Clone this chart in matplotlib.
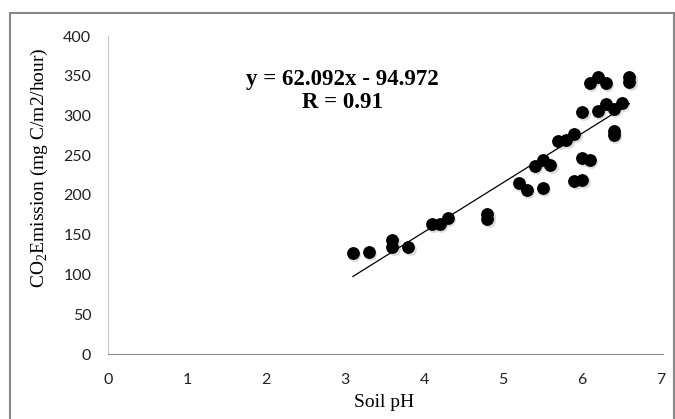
import matplotlib.pyplot as plt
import numpy as np
from matplotlib.patches import Rectangle

# Soil pH vs CO2 emission
soil_ph = [3.1, 3.3, 3.6, 3.6, 3.8, 4.1, 4.2, 4.3, 4.8, 4.8,
           5.2, 5.3, 5.4, 5.5, 5.5, 5.6, 5.7, 5.8, 5.9, 5.9,
           6.0, 6.0, 6.0, 6.1, 6.1, 6.2, 6.2, 6.3, 6.3, 6.4,
           6.4, 6.4, 6.5, 6.6, 6.6]
co2_emission = [127, 128, 144, 135, 134, 163, 163, 171, 170, 176,
                215, 206, 236, 244, 209, 238, 268, 269, 277, 218,
                304, 246, 219, 244, 341, 348, 306, 341, 314, 308,
                275, 280, 316, 348, 342]

slope = 62.092
intercept = -94.972

x_ticks = [0, 1, 2, 3, 4, 5, 6, 7]
y_ticks = [0, 50, 100, 150, 200, 250, 300, 350, 400]

plt.rcParams["mathtext.fontset"] = "custom"
plt.rcParams["mathtext.rm"] = "Liberation Serif"

fig = plt.figure(figsize=(6.75, 4.19), dpi=100)
ax = fig.add_axes([108 / 675, 1 - 354 / 419, (661 - 108) / 675, (354 - 36) / 419])

# soft shadow under the markers, like the spreadsheet style
ax.scatter(np.array(soil_ph) + 0.02, np.array(co2_emission) - 2.5, s=85,
           color="#999999", alpha=0.35, linewidths=0, zorder=2)
ax.scatter(soil_ph, co2_emission, s=85, color="black", linewidths=0, zorder=3)

fit_x = np.array([min(soil_ph), max(soil_ph)])
ax.plot(fit_x, slope * fit_x + intercept, color="black", linewidth=0.9, zorder=4)

ax.set_xlim(0, 7)
ax.set_ylim(0, 400)
ax.set_xticks(x_ticks)
ax.set_yticks(y_ticks)
ax.tick_params(length=0, labelsize=11.5, colors="#222222", pad=14)
ax.tick_params(axis="y", pad=12)
for label in ax.get_xticklabels() + ax.get_yticklabels():
    label.set_fontfamily("Lato")

for side in ["top", "right"]:
    ax.spines[side].set_visible(False)
ax.spines["left"].set_color("#c8c8c8")
ax.spines["bottom"].set_color("#8c8c8c")
ax.spines["bottom"].set_bounds(0, 7.03)

ax.set_xlabel("Soil pH", fontfamily="Liberation Serif", fontsize=14)
ax.set_ylabel("CO$_2$Emission (mg C/m2/hour)", fontfamily="Liberation Serif",
              fontsize=14)
ax.xaxis.set_label_coords(0.5, -0.125)
ax.yaxis.set_label_coords(-0.105, 0.585)

ax.text(2.97, 331, f"y = {slope}x - {abs(intercept)}\nR = 0.91",
        ha="center", va="center", fontfamily="Liberation Serif",
        fontweight="bold", fontsize=16.5, linespacing=1.15)

fig.patches.append(Rectangle((10 / 675, -0.05), 664 / 675, 1 - 13 / 419 + 0.05,
                             transform=fig.transFigure, fill=False,
                             edgecolor="#888888", linewidth=1.5))

fig.savefig("out.png", dpi=100)
